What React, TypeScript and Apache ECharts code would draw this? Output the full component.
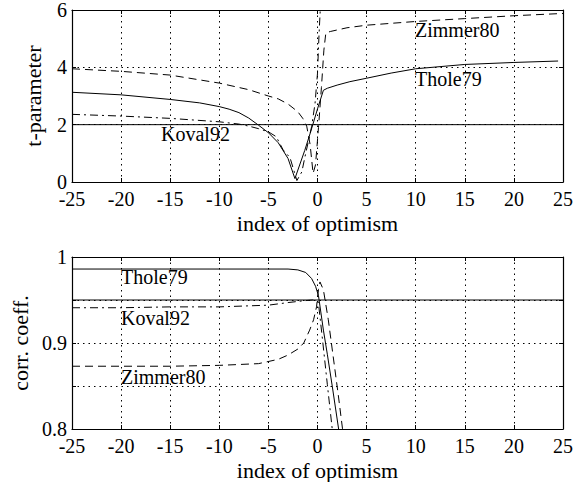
import React, { useEffect, useRef } from "react";
import * as echarts from "echarts";

// ---- Data ----
// Top panel: t-parameter vs index of optimism
const tholeTX = [-25, -20, -15, -12, -10, -9, -8, -7, -6, -5, -4, -3, -2.3, -1.3, -0.7, 0, 0.6, 1, 2, 3.3, 5, 7.5, 10, 15, 20, 24.5];
const tholeTY = [3.13, 3.04, 2.88, 2.76, 2.63, 2.54, 2.42, 2.23, 1.98, 1.72, 1.37, 0.82, 0.12, 1.1, 1.75, 2.55, 3.2, 3.27, 3.38, 3.5, 3.62, 3.8, 3.95, 4.1, 4.17, 4.22];

const kovalTX = [-25, -20, -15, -10, -8, -7, -6, -5, -4.2, -3.5, -2.8, -2.1, -1.6, -1.2, -0.6, -0.25, 0, 0.15, 0.35, 1];
const kovalTY = [2.36, 2.3, 2.22, 2.1, 2.02, 1.95, 1.86, 1.75, 1.58, 1.12, 0.85, 0.05, 0.35, 1.0, 1.93, 2.74, 3.8, 5.1, 6.5, 8];

const zimmerTX = [-25, -20, -15, -10, -7, -5, -4, -3, -2, -1.5, -1.1, -0.75, -0.45, -0.2, 0.1, 0.4, 0.65, 0.85, 1.3, 3, 5, 10, 15, 20, 25];
const zimmerTY = [3.95, 3.86, 3.73, 3.45, 3.22, 3.0, 2.9, 2.72, 2.45, 2.22, 1.95, 1.3, 0.3, 0.6, 1.9, 3.3, 4.6, 5.2, 5.25, 5.38, 5.47, 5.6, 5.7, 5.8, 5.88];

const refT = 2;

// Bottom panel: correlation coefficient vs index of optimism
const tholeCX = [-25, -20, -15, -10, -5, -3, -2, -1.2, -0.6, -0.2, 0.1, 0.6, 1.0, 1.5, 2.15, 2.3];
const tholeCY = [0.986, 0.986, 0.986, 0.986, 0.986, 0.986, 0.985, 0.982, 0.975, 0.966, 0.955, 0.915, 0.887, 0.85, 0.8, 0.79];

const kovalCX = [-25, -20, -15, -10, -5, -3, -1.5, -0.5, 0.08, 0.5, 1.0, 1.5, 1.6];
const kovalCY = [0.941, 0.941, 0.942, 0.942, 0.944, 0.947, 0.949, 0.95, 0.948, 0.905, 0.852, 0.8, 0.79];

const zimmerCX = [-25, -20, -15, -10, -6, -4, -3, -2, -1.4, -0.8, -0.4, -0.1, 0.1, 0.25, 0.6, 1.1, 1.6, 2.1, 2.55, 2.7];
const zimmerCY = [0.873, 0.873, 0.873, 0.874, 0.876, 0.881, 0.886, 0.893, 0.9, 0.915, 0.927, 0.942, 0.962, 0.971, 0.962, 0.927, 0.884, 0.841, 0.8, 0.787];

const refC = 0.95;

const xMin = -25;
const xMax = 25;
const xStep = 5;

const zip = (xs: number[], ys: number[]) => xs.map((x, i) => [x, ys[i]]);

const FONT = "Liberation Serif";

export default function App() {
  const ref = useRef<HTMLDivElement>(null);

  useEffect(() => {
    if (!ref.current) return;
    const chart = echarts.init(ref.current, undefined, { renderer: "svg" });

    const grid = [
      { left: 72, top: 10, width: 491, height: 172 },
      { left: 72, top: 257, width: 491, height: 172 },
    ];

    const dotted = { show: true, lineStyle: { color: "#000", width: 1, type: [1.5, 4] as any } };
    const axisLineStyle = { show: true, onZero: false, lineStyle: { color: "#000", width: 1.2 } };
    const tickIn = { show: true, inside: true, length: 4, lineStyle: { color: "#000" } };
    const labelStyle = { color: "#000", fontFamily: FONT, fontSize: 20, lineHeight: 15 };
    const nameStyle = { color: "#000", fontFamily: FONT, fontSize: 22 };

    const xAxisBottom = (gi: number) => ({
      type: "value",
      gridIndex: gi,
      position: "bottom",
      min: xMin,
      max: xMax,
      interval: xStep,
      name: "index of optimism",
      nameLocation: "middle",
      nameGap: 30,
      nameTextStyle: nameStyle,
      axisLine: axisLineStyle,
      axisTick: tickIn,
      axisLabel: { ...labelStyle, margin: 9 },
      splitLine: dotted,
    });
    const xAxisTop = (gi: number) => ({
      type: "value",
      gridIndex: gi,
      position: "top",
      min: xMin,
      max: xMax,
      interval: xStep,
      axisLine: axisLineStyle,
      axisTick: tickIn,
      axisLabel: { show: false },
      splitLine: { show: false },
    });

    const corrLabel = (v: number) =>
      Math.abs(v * 10 - Math.round(v * 10)) < 1e-6 ? String(+v.toFixed(1)) : "";

    const line = (data: number[][], xi: number, yi: number, type: any) => ({
      type: "line",
      xAxisIndex: xi,
      yAxisIndex: yi,
      data,
      showSymbol: false,
      symbol: "none",
      clip: true,
      lineStyle: { color: "#000", width: 1, type },
      silent: true,
    });

    const dash = [8, 5];
    const dashDot = [8, 4, 2, 4];

    const textStyle = (text: string) => ({ text, fontFamily: FONT, fontSize: 20, fill: "#000" });

    chart.setOption({
      animation: false,
      backgroundColor: "#fff",
      textStyle: { fontFamily: FONT },
      grid,
      xAxis: [xAxisBottom(0), xAxisTop(0), xAxisBottom(1), xAxisTop(1)],
      yAxis: [
        {
          type: "value",
          gridIndex: 0,
          position: "left",
          min: 0,
          max: 6,
          interval: 2,
          name: "t-parameter",
          nameLocation: "middle",
          nameGap: 28,
          nameTextStyle: nameStyle,
          axisLine: axisLineStyle,
          axisTick: tickIn,
          axisLabel: { ...labelStyle, margin: 5 },
          splitLine: dotted,
        },
        {
          type: "value",
          gridIndex: 0,
          position: "right",
          min: 0,
          max: 6,
          interval: 2,
          axisLine: axisLineStyle,
          axisTick: tickIn,
          axisLabel: { show: false },
          splitLine: { show: false },
        },
        {
          type: "value",
          gridIndex: 1,
          position: "left",
          min: 0.8,
          max: 1,
          interval: 0.05,
          name: "corr. coeff.",
          nameLocation: "middle",
          nameGap: 41,
          nameTextStyle: nameStyle,
          axisLine: axisLineStyle,
          axisTick: tickIn,
          axisLabel: { ...labelStyle, margin: 5, formatter: corrLabel },
          splitLine: dotted,
        },
        {
          type: "value",
          gridIndex: 1,
          position: "right",
          min: 0.8,
          max: 1,
          interval: 0.05,
          axisLine: axisLineStyle,
          axisTick: tickIn,
          axisLabel: { show: false },
          splitLine: { show: false },
        },
      ],
      series: [
        line(zip(tholeTX, tholeTY), 0, 0, "solid"),
        line(zip(kovalTX, kovalTY), 0, 0, dashDot),
        line(zip(zimmerTX, zimmerTY), 0, 0, dash),
        line([[xMin, refT], [xMax, refT]], 0, 0, "solid"),
        line(zip(tholeCX, tholeCY), 2, 2, "solid"),
        line(zip(kovalCX, kovalCY), 2, 2, dashDot),
        line(zip(zimmerCX, zimmerCY), 2, 2, dash),
        line([[xMin, refC], [xMax, refC]], 2, 2, "solid"),
      ],
      graphic: [
        { type: "text", left: 415, top: 20, style: textStyle("Zimmer80") },
        { type: "text", left: 415, top: 69, style: textStyle("Thole79") },
        { type: "text", left: 161, top: 124, style: textStyle("Koval92") },
        { type: "text", left: 121, top: 267, style: textStyle("Thole79") },
        { type: "text", left: 121, top: 308, style: textStyle("Koval92") },
        { type: "text", left: 121, top: 367, style: textStyle("Zimmer80") },
      ],
    });

    return () => chart.dispose();
  }, []);

  return (
    <div
      ref={ref}
      style={{ position: "fixed", left: 0, top: 0, width: 577, height: 482, background: "#fff" }}
    />
  );
}
